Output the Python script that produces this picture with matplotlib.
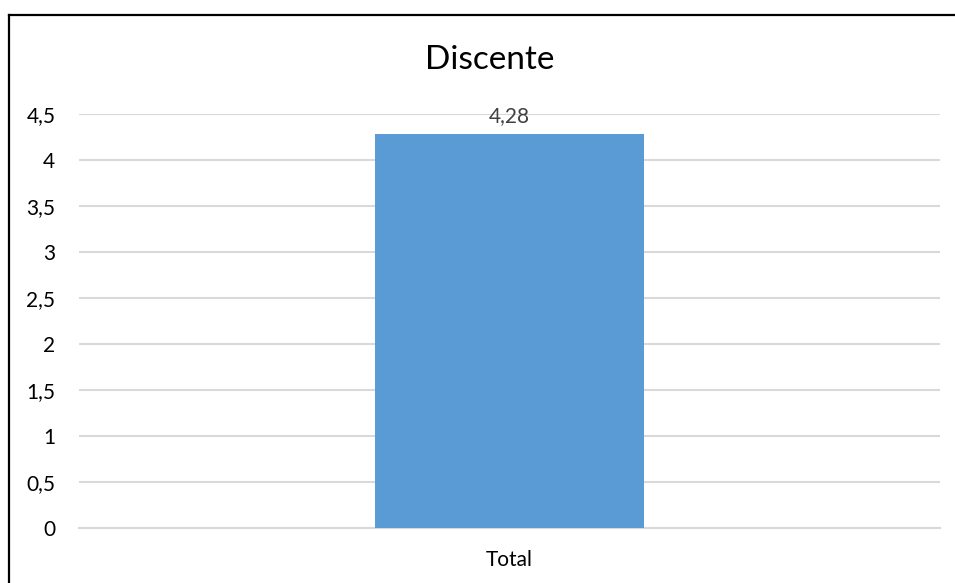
import matplotlib.pyplot as plt
from matplotlib.lines import Line2D

categories = ['Total']
values = [4.28]
yticks = [0, 0.5, 1, 1.5, 2, 2.5, 3, 3.5, 4, 4.5]
title = 'Discente'


def fmt(v):
    s = ('%.2f' % v).rstrip('0').rstrip('.')
    return s.replace('.', ',')


def main():
    plt.rcParams['font.family'] = ['Lato', 'DejaVu Sans']
    W, H = 955, 583
    fig = plt.figure(figsize=(W / 100, H / 100), dpi=100)
    ax = fig.add_axes([79 / W, 1 - 528 / H, (940 - 79) / W, (528 - 114) / H])

    x = list(range(len(categories)))
    ax.bar(x, values, width=0.3135, color='#5B9BD5', linewidth=0, zorder=3)
    for xi, v in zip(x, values):
        ax.text(xi, v + 0.09, fmt(v), ha='center', va='bottom', fontsize=15, color='#404040')

    ax.set_xlim(-0.5, len(categories) - 0.5)
    ax.set_ylim(0, 4.5)
    ax.set_yticks(yticks)
    ax.set_yticklabels([fmt(t) for t in yticks])
    ax.set_xticks(x)
    ax.set_xticklabels(categories)
    ax.tick_params(axis='both', length=0, labelsize=15, labelcolor='#000000')
    ax.tick_params(axis='y', pad=17)
    ax.tick_params(axis='x', pad=16)
    ax.yaxis.grid(True, color='#D9D9D9', linewidth=1.5, zorder=0)
    ax.set_axisbelow(True)
    for s in ['top', 'right', 'left']:
        ax.spines[s].set_visible(False)
    ax.spines['bottom'].set_color('#D9D9D9')
    ax.spines['bottom'].set_linewidth(1.5)

    fig.text(489.5 / W, 1 - 60 / H, title, ha='center', va='center', fontsize=24, color='#000000')

    # partial chart border (top and left)
    fig.add_artist(Line2D([9 / W, 1], [1 - 15 / H, 1 - 15 / H], color='black', linewidth=1.6))
    fig.add_artist(Line2D([9 / W, 9 / W], [0, 1 - 15 / H], color='black', linewidth=1.6))

    fig.savefig('out.png', dpi=100)


if __name__ == '__main__':
    main()
